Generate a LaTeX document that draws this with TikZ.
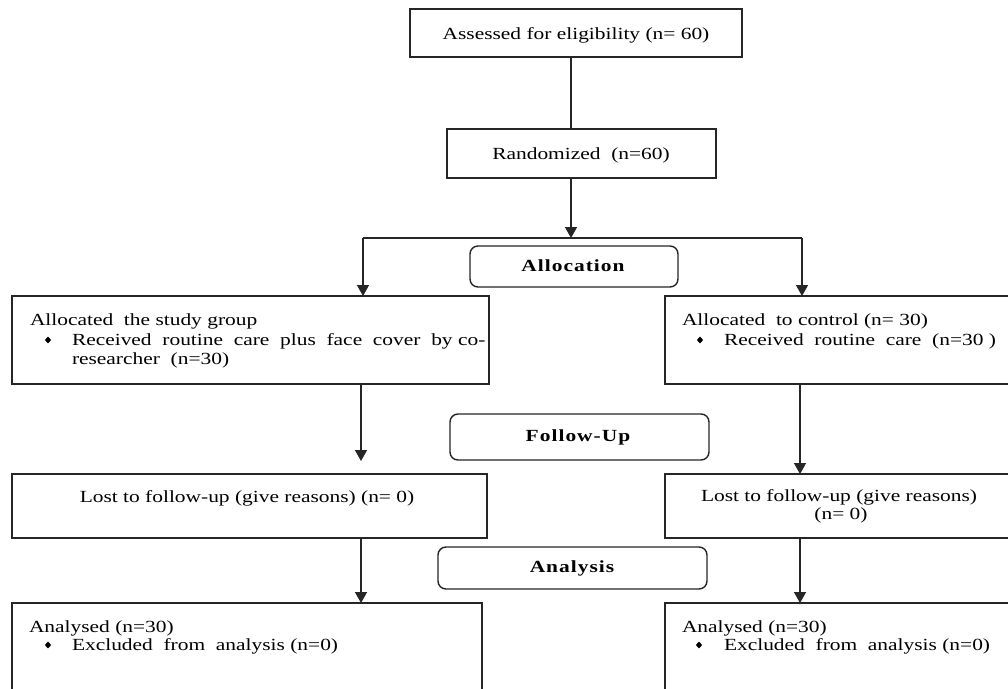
\documentclass[tikz,border=0pt]{standalone}
\usepackage{fontspec}
\setmainfont{Liberation Serif}[FakeStretch=1.26]
\newfontfamily\headfont{Liberation Serif}[FakeStretch=1.26, LetterSpace=6]
\usetikzlibrary{arrows.meta,shapes.geometric}
\tikzset{
  box/.style={draw=black!85, line width=1.4pt, inner sep=0pt, outer sep=0pt},
  rbox/.style={box, rounded corners=8pt},
  txt/.style={inner sep=0pt, outer sep=0pt, font=\fontsize{17}{19.5}\selectfont},
  head/.style={inner sep=0pt, outer sep=0pt, font=\headfont\bfseries\fontsize{17}{19.5}\selectfont},
  bulletmark/.style={diamond, fill=black, inner sep=0pt, minimum width=6.5pt, minimum height=7pt},
  conn/.style={draw=black!85, line width=1.4pt},
  arr/.style={conn, -{Triangle[width=12pt,length=11pt]}},
}
\begin{document}
\begin{tikzpicture}[x=1pt,y=-1pt]
\useasboundingbox (0,0) rectangle (1008,688);
\fill[white] (0,0) rectangle (1008,688);
\clip (0,0) rectangle (1008,688);
% boxes
\node[box, minimum width=332pt, minimum height=48pt] (assess) at (576,33) {};
\node[box, minimum width=269pt, minimum height=49pt] (rand) at (581.5,153.5) {};
\node[rbox, minimum width=208pt, minimum height=41pt] (alloc) at (574,266.5) {};
\node[box, minimum width=477pt, minimum height=88pt] (left1) at (250.5,340) {};
\node[box, minimum width=350pt, minimum height=88pt] (right1) at (840,340) {};
\node[rbox, minimum width=259pt, minimum height=46pt] (follow) at (579.5,437) {};
\node[box, minimum width=475pt, minimum height=64pt] (left2) at (249.5,506) {};
\node[box, minimum width=350pt, minimum height=64pt] (right2) at (840,506) {};
\node[rbox, minimum width=269pt, minimum height=42pt] (analysis) at (572.5,568) {};
\node[box, minimum width=470pt, minimum height=107pt] (left3) at (247,656.5) {};
\node[box, minimum width=350pt, minimum height=107pt] (right3) at (840,656.5) {};
% texts
\node[txt, anchor=base] (tassess) at (576,39) {Assessed for eligibility (n= 60)};
\node[txt, anchor=base] (trand) at (581,159) {Randomized\ \ (n=60)};
\node[head] (talloc) at (573,266) {Allocation};
\node[head] (tfollow) at (578,437) {Follow-Up};
\node[head] (tanalysis) at (572,568) {Analysis};
\node[txt, anchor=base west] (tl1a) at (30,325) {Allocated\ \ the study group};
\node[bulletmark] (bl1) at (48,340) {};
\node[txt, anchor=base west] (tl1b) at (72,345) {Received\ \ routine\ \ care\ \ plus\ \ face\ \ cover\ \ by co-};
\node[txt, anchor=base west] (tl1c) at (72,364) {researcher\ \ (n=30)};
\node[txt, anchor=base west] (tr1a) at (682,325) {Allocated\ \ to control (n= 30)};
\node[bulletmark] (br1) at (700,340) {};
\node[txt, anchor=base west] (tr1b) at (724,345) {Received\ \ routine\ \ care\ \ (n=30 )};
\node[txt, anchor=base] (tl2) at (247,502) {Lost to follow-up (give reasons) (n= 0)};
\node[txt, anchor=base] (tr2a) at (839,501) {Lost to follow-up (give reasons)};
\node[txt, anchor=base] (tr2b) at (841,519) {(n= 0)};
\node[txt, anchor=base west] (tl3a) at (29,632) {Analysed (n=30)};
\node[bulletmark] (bl3) at (48,645) {};
\node[txt, anchor=base west] (tl3b) at (72,650) {Excluded\ \ from\ \ analysis (n=0)};
\node[txt, anchor=base west] (tr3a) at (682,632) {Analysed (n=30)};
\node[bulletmark] (br3) at (699,645) {};
\node[txt, anchor=base west] (tr3b) at (724,650) {Excluded\ \ from\ \ analysis (n=0)};
% connector points
\coordinate (split) at (571,238);
\coordinate (lsplit) at (363,238);
\coordinate (rsplit) at (802,238);
\coordinate (lgap) at (361,461);
\coordinate (rcol) at (800,0);
\coordinate (lcol) at (361,0);
% connectors
\draw[conn] (assess.south -| split) -- (rand.north -| split);
\draw[arr] (rand.south -| split) -- (split);
\draw[conn] (lsplit) -- (rsplit);
\draw[arr] (lsplit) -- (left1.north -| lsplit);
\draw[arr] (rsplit) -- (right1.north -| rsplit);
\draw[arr] (left1.south -| lgap) -- (lgap);
\draw[arr] (right1.south -| rcol) -- (right2.north -| rcol);
\draw[arr] (left2.south -| lcol) -- (left3.north -| lcol);
\draw[arr] (right2.south -| rcol) -- (right3.north -| rcol);
\end{tikzpicture}
\end{document}
